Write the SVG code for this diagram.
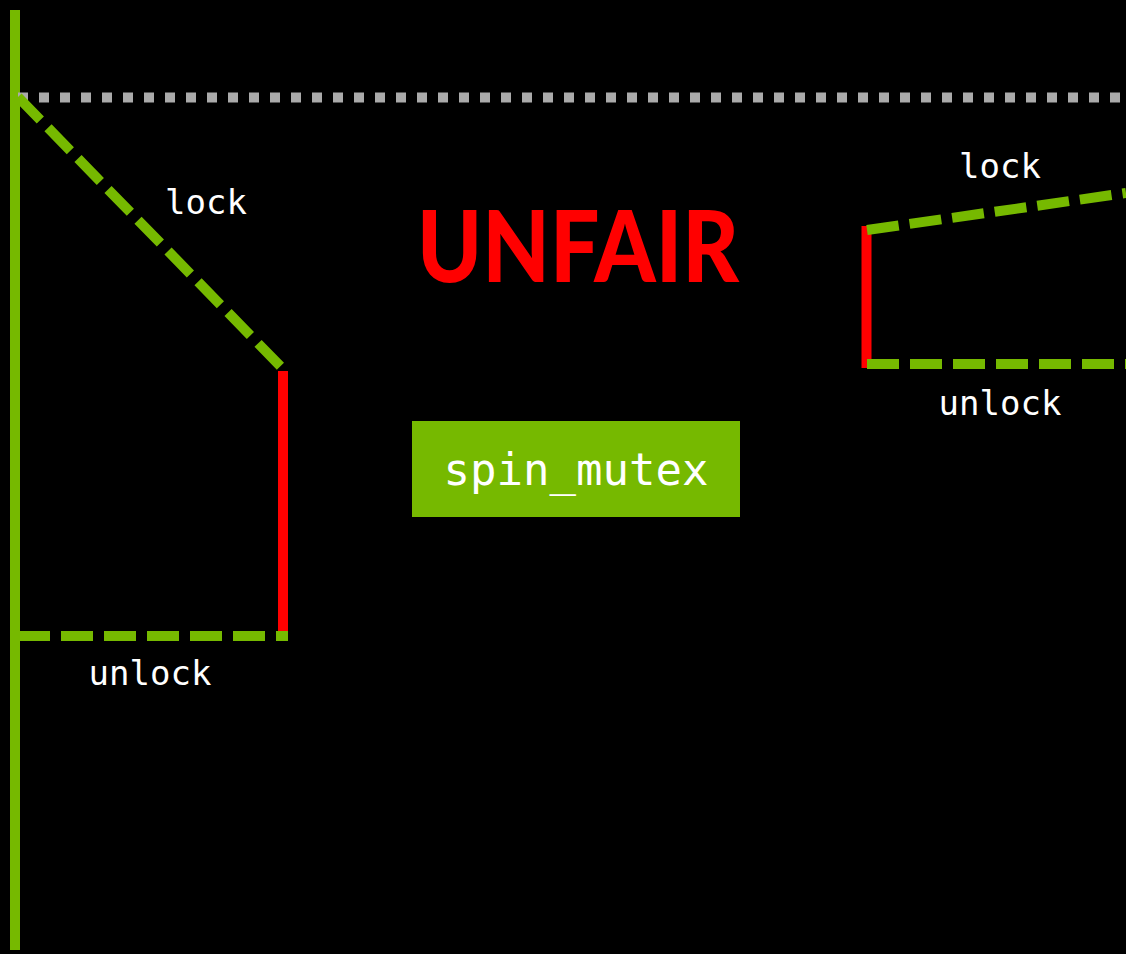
<svg xmlns="http://www.w3.org/2000/svg" width="1126" height="954" viewBox="0 0 1126 954">
<style>
.g{stroke:#76b900;stroke-width:10;fill:none}
.d{stroke-dasharray:32 11}
.r{stroke:#ff0000;stroke-width:10;fill:none}
.lbl{font-family:"DejaVu Sans Mono",monospace;font-size:34px;fill:#ffffff;text-anchor:middle}
</style>
<rect width="1126" height="954" fill="#000000"/>
<g id="connectors">
<line class="g" x1="15" y1="10" x2="15" y2="950"/>
<line x1="18" y1="97.5" x2="1126" y2="97.5" stroke="#aaaaaa" stroke-width="10" stroke-dasharray="10 11"/>
<line class="g d" x1="18" y1="97" x2="285" y2="371"/>
<line class="r" x1="283" y1="371" x2="283" y2="641"/>
<line class="g d" x1="18" y1="636" x2="288" y2="636"/>
<line class="r" x1="866.5" y1="226" x2="866.5" y2="368"/>
<line class="g d" x1="867" y1="230" x2="1126" y2="193"/>
<line class="g d" x1="867" y1="364" x2="1126" y2="364"/>
</g>
<g id="labels">
<text class="lbl" x="206" y="214">lock</text>
<text class="lbl" x="150" y="685">unlock</text>
<text class="lbl" x="1000" y="178">lock</text>
<text class="lbl" x="1000" y="415">unlock</text>
</g>
<g id="title">
<text x="578" y="282" font-family="Lato, sans-serif" font-weight="900" font-size="100" fill="#ff0000" text-anchor="middle" textLength="322" lengthAdjust="spacingAndGlyphs">UNFAIR</text>
</g>
<g id="spin_mutex">
<rect x="412" y="421" width="328" height="96" fill="#76b900"/>
<text x="576" y="485" font-family="DejaVu Sans Mono, monospace" font-size="44" fill="#ffffff" text-anchor="middle">spin_mutex</text>
</g>
</svg>
